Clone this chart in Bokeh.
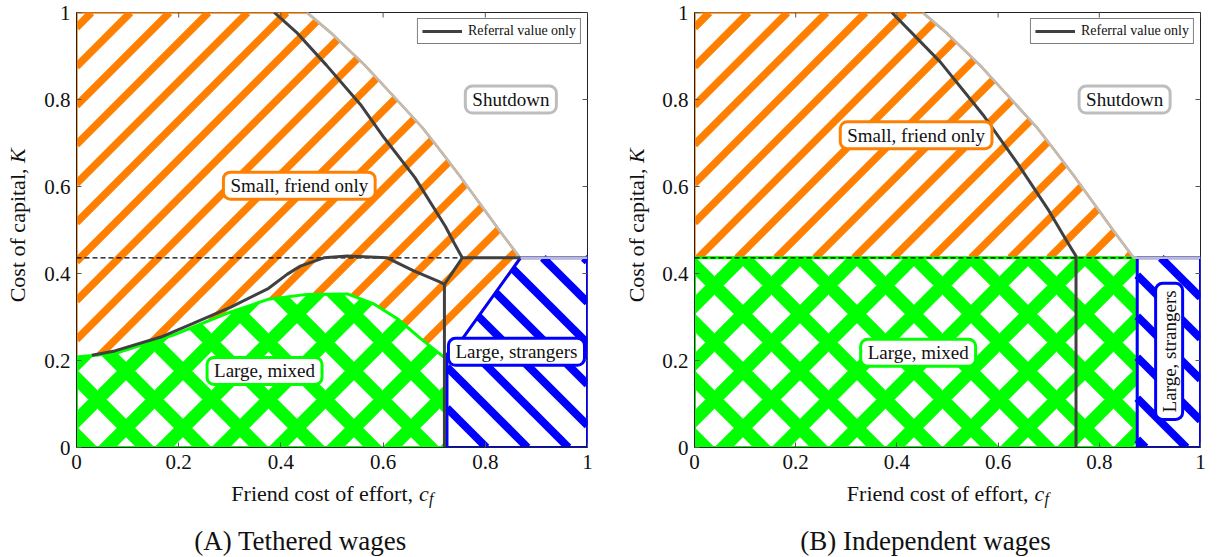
import math
import numpy as np
from bokeh.plotting import figure
from bokeh.layouts import row, column
from bokeh.models import Label, FixedTicker, Range1d, Legend, LegendItem
from bokeh.embed import file_html
from bokeh.resources import INLINE

FONT = "Liberation Serif"

tick_vals = [0, 0.2, 0.4, 0.6, 0.8, 1]
tick_text = ["0", "0.2", "0.4", "0.6", "0.8", "1"]

K_threshold = 0.436

# shutdown boundary (both panels)
cf_shut = [0.451, 0.50, 0.564, 0.62, 0.677, 0.715, 0.752, 0.79, 0.827, 0.868]
K_shut = [1.00, 0.951, 0.879, 0.808, 0.735, 0.678, 0.621, 0.56, 0.50, 0.436]

# ---- Panel A: tethered wages ----
A_green_cf = [0, 0, 0.075, 0.188, 0.301, 0.376, 0.451, 0.53, 0.582, 0.628, 0.673, 0.722, 0.722]
A_green_K = [0, 0.208, 0.216, 0.258, 0.311, 0.341, 0.352, 0.353, 0.330, 0.296, 0.251, 0.205, 0]
A_blue_cf = [0.725, 0.725, 0.74, 0.869, 1, 1]
A_blue_K = [0, 0.215, 0.225, 0.436, 0.436, 0]
A_orange_cf = [0, 0] + cf_shut + [0.74, 0.725, 0.725]
A_orange_K = [0, 1] + K_shut + [0.225, 0.215, 0]
A_ref1_cf = [0.387, 0.43, 0.489, 0.556, 0.602, 0.662, 0.722, 0.739, 0.755, 0.869]
A_ref1_K = [1.0, 0.955, 0.879, 0.788, 0.712, 0.621, 0.508, 0.47, 0.436, 0.436]
A_ref2_cf = [0.755, 0.72, 0.72]
A_ref2_K = [0.436, 0.375, 0]
A_ref3_cf = [0.72, 0.712, 0.66, 0.608, 0.53, 0.484, 0.438, 0.412, 0.376, 0.301, 0.226, 0.165, 0.075, 0.03]
A_ref3_K = [0.375, 0.38, 0.406, 0.436, 0.44, 0.436, 0.417, 0.398, 0.366, 0.322, 0.284, 0.254, 0.222, 0.212]

# ---- Panel B: independent wages ----
B_green_cf = [0, 0, 0.875, 0.875]
B_green_K = [0, 0.436, 0.436, 0]
B_blue_cf = [0.875, 0.875, 1, 1]
B_blue_K = [0, 0.436, 0.436, 0]
B_orange_cf = [0, 0] + cf_shut
B_orange_K = [0.436, 1] + K_shut
B_ref_cf = [0.39, 0.486, 0.57, 0.639, 0.70, 0.738, 0.754, 0.754]
B_ref_K = [1.0, 0.886, 0.765, 0.652, 0.545, 0.47, 0.44, 0]

ORANGE = "#ff8000"
GREEN = "#00ff00"
BLUE = "#0000ff"
GREY = "#bdbdbd"
DARK = "#404040"
INK = "#111111"

FH = 435          # plot frame height (px)
TOP = 12          # border above the frame
BOT = 34          # border below the frame (tick labels)
PH = TOP + FH + BOT


def hatch_lines(px, py, fw, fh, step, phase, sign):
    """45-degree stripes (in screen space) clipped to a polygon given in data units."""
    X = np.asarray(px, float) * fw
    Y = np.asarray(py, float) * fh
    s = Y - sign * X
    t = X + sign * Y
    n = len(X)
    xs, ys = [], []
    kmin = math.floor((s.min() - phase) / step)
    kmax = math.ceil((s.max() - phase) / step)
    for k in range(kmin, kmax + 1):
        c = phase + k * step
        ts = []
        for i in range(n):
            j = (i + 1) % n
            si, sj = s[i], s[j]
            if (si <= c < sj) or (sj <= c < si):
                f = (c - si) / (sj - si)
                ts.append(t[i] + f * (t[j] - t[i]))
        ts.sort()
        for a, b in zip(ts[0::2], ts[1::2]):
            pts = []
            for tv in (a, b):
                if sign > 0:
                    Xv, Yv = (tv - c) / 2, (tv + c) / 2
                else:
                    Xv, Yv = (c + tv) / 2, (c - tv) / 2
                pts.append((Xv / fw, Yv / fh))
            xs.append([pts[0][0], pts[1][0]])
            ys.append([pts[0][1], pts[1][1]])
    return xs, ys


def style_axis(ax):
    ax.ticker = FixedTicker(ticks=tick_vals)
    ax.major_label_overrides = {v: t for v, t in zip(tick_vals, tick_text)}
    ax.minor_tick_line_color = None
    ax.major_tick_in = 5
    ax.major_tick_out = 0
    ax.major_tick_line_color = "#555555"
    ax.axis_line_color = "#222222"
    ax.major_label_text_font = FONT
    ax.major_label_text_color = INK
    ax.major_label_text_font_size = "21px"


def box_label(p, text, x, y, border, angle=0.0):
    p.add_layout(Label(x=x, y=y, text=text, text_font=FONT, text_font_size="19px",
                       text_color=INK, text_align="center", text_baseline="middle",
                       angle=angle, background_fill_color="white",
                       border_line_color=border, border_line_width=3,
                       border_radius=7, padding=(7, 3)))


def text_fig(w, h):
    f = figure(width=w, height=h, x_range=Range1d(0, w), y_range=Range1d(0, h),
               min_border=0, x_axis_location=None, y_axis_location=None,
               toolbar_location=None, output_backend="svg")
    f.outline_line_color = None
    f.grid.visible = False
    return f


def txt(f, text, x, y, size, **kw):
    f.add_layout(Label(x=x, y=y, text=text, text_font=FONT, text_font_size=size,
                       text_color=INK, **kw))


def make_panel(fw, left, right, orange, green, blue, refs, boxes):
    p = figure(frame_width=fw, frame_height=FH, min_border_left=left, min_border_right=right,
               min_border_top=TOP, min_border_bottom=BOT, output_backend="svg",
               toolbar_location=None, x_range=Range1d(0, 1), y_range=Range1d(0, 1))
    p.xgrid.visible = False
    p.ygrid.visible = False
    p.outline_line_color = "#222222"
    style_axis(p.xaxis[0])
    style_axis(p.yaxis[0])
    p.xaxis[0].major_label_standoff = 7
    p.yaxis[0].major_label_standoff = 6

    # Small, friend only (orange stripes)
    p.patch(orange[0], orange[1], fill_color="white", line_color=ORANGE, line_width=2.5)
    hx, hy = hatch_lines(orange[0], orange[1], fw, FH, 39, 30, +1)
    p.multi_line(hx, hy, line_color=ORANGE, line_width=7.5, line_cap="butt")
    # Large, mixed (green lattice)
    p.patch(green[0], green[1], fill_color="white", line_color=GREEN, line_width=3,
            hatch_pattern="x", hatch_color=GREEN, hatch_scale=57, hatch_weight=13)
    # Large, strangers (blue stripes)
    p.patch(blue[0], blue[1], fill_color="white", line_color=None)
    hx, hy = hatch_lines(blue[0], blue[1], fw, FH, 41, 0, -1)
    p.multi_line(hx, hy, line_color=BLUE, line_width=8, line_cap="butt")
    p.patch(blue[0], blue[1], fill_color=None, line_color=BLUE, line_width=3)

    p.line([0, 1], [K_threshold, K_threshold], line_color="black", line_width=1.2,
           line_dash="5 3")
    p.line(cf_shut + [1], K_shut + [K_shut[-1]], line_color=GREY, line_width=2.5)
    rends = []
    for cx, ky in refs:
        rends.append(p.line(cx, ky, line_color=DARK, line_width=3))

    # inward ticks on the top and right edges
    p.scatter(tick_vals, [1] * len(tick_vals), marker="dash", size=10, angle=math.pi / 2,
              line_color="#555555", line_width=1)
    p.scatter([1] * len(tick_vals), tick_vals, marker="dash", size=10,
              line_color="#555555", line_width=1)

    legend = Legend(items=[LegendItem(label="Referral value only", renderers=[rends[0]])],
                    location="top_right", margin=6, padding=4, spacing=0,
                    label_text_font=FONT, label_text_font_size="14px",
                    label_text_color=INK, glyph_width=40, glyph_height=14,
                    label_standoff=6, border_line_color="black", border_line_width=1,
                    background_fill_color="white", background_fill_alpha=1)
    p.add_layout(legend)

    for b in boxes:
        box_label(p, *b)
    return p


def ylabel_fig(w, xc):
    f = text_fig(w, PH)
    yc = PH - (TOP + FH / 2)          # vertical centre of the frame
    anchor = yc + 57
    txt(f, "Cost of capital,", xc, anchor, "22px", angle=math.pi / 2,
        text_align="right", text_baseline="middle")
    txt(f, "K", xc, anchor + 6, "22px", angle=math.pi / 2, text_font_style="italic",
        text_align="left", text_baseline="middle")
    return f


pA = make_panel(511, 36, 20,
                (A_orange_cf, A_orange_K), (A_green_cf, A_green_K), (A_blue_cf, A_blue_K),
                [(A_ref1_cf, A_ref1_K), (A_ref2_cf, A_ref2_K), (A_ref3_cf, A_ref3_K)],
                [("Small, friend only", 0.436, 0.602, ORANGE),
                 ("Large, mixed", 0.368, 0.176, GREEN),
                 ("Large, strangers", 0.861, 0.22, BLUE),
                 ("Shutdown", 0.85, 0.80, GREY)])

pB = make_panel(506, 37, 12,
                (B_orange_cf, B_orange_K), (B_green_cf, B_green_K), (B_blue_cf, B_blue_K),
                [(B_ref_cf, B_ref_K)],
                [("Small, friend only", 0.438, 0.718, ORANGE),
                 ("Large, mixed", 0.442, 0.218, GREEN),
                 ("Large, strangers", 0.938, 0.221, BLUE, math.pi / 2),
                 ("Shutdown", 0.85, 0.80, GREY)])

yA = ylabel_fig(40, 17)
yB = ylabel_fig(50, 29)

# bottom strip: x-axis labels and sub-captions
BW, BH = 1212, 75
bottom = text_fig(BW, BH)
for anchor, cap, cap_x in [(412.5, "(A) Tethered wages", 300),
                           (1028, "(B) Independent wages", 925)]:
    txt(bottom, "Friend cost of effort,", anchor, 63, "22px", text_align="right",
        text_baseline="alphabetic")
    txt(bottom, "c", anchor + 6, 63, "22px", text_font_style="italic", text_align="left",
        text_baseline="alphabetic")
    txt(bottom, "f", anchor + 16, 58, "16px", text_font_style="italic", text_align="left",
        text_baseline="alphabetic")
    txt(bottom, cap, cap_x, 16, "27px", text_align="center", text_baseline="alphabetic")

layout = column(row(yA, pA, yB, pB), bottom)
open("out.html", "w").write(file_html(layout, INLINE))
